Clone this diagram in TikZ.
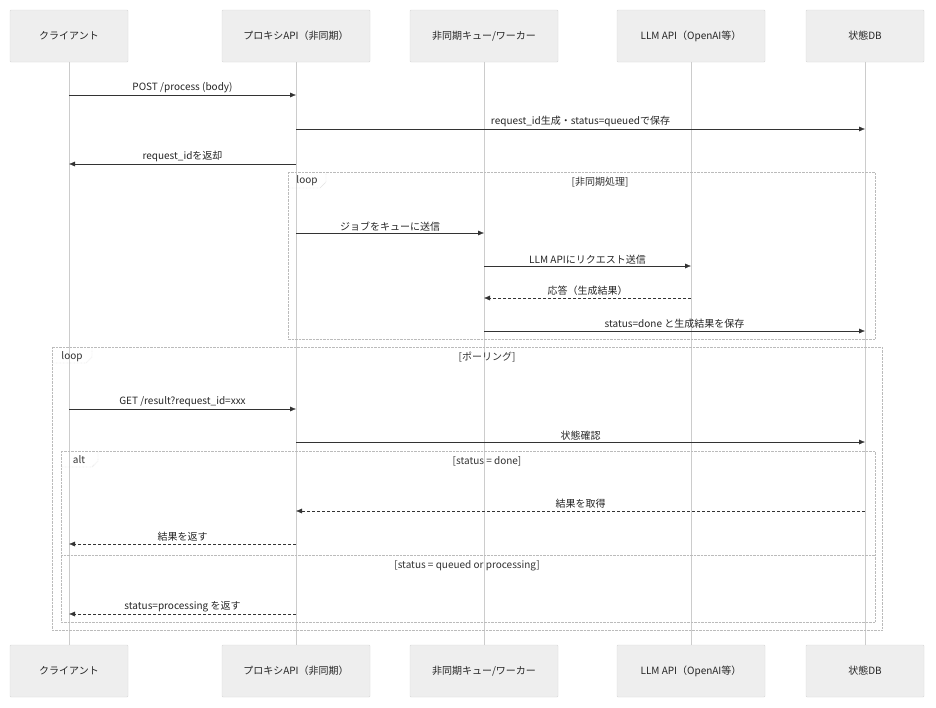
\documentclass[tikz,border=0pt]{standalone}
\usepackage{fontspec}
\setmainfont{Noto Sans CJK JP}
\usetikzlibrary{arrows.meta}

\definecolor{boxfill}{HTML}{EEEEEE}
\definecolor{boxline}{HTML}{D8D8D8}
\definecolor{lifeline}{HTML}{CCCCCC}
\definecolor{msgline}{HTML}{333333}
\definecolor{frameline}{HTML}{BBBBBB}

\tikzset{
  actor/.style={draw=boxline, fill=boxfill, rounded corners=1pt, minimum height=52pt, font=\fontsize{10}{12}\selectfont, text=black!85},
  msg/.style={draw=msgline, -{Latex[length=6pt,width=5pt]}},
  reply/.style={msg, densely dashed},
  msglabel/.style={font=\fontsize{10}{12}\selectfont, text=black!85, anchor=south, inner sep=2pt},
  frame/.style={draw=frameline, densely dotted},
  tab/.style={font=\fontsize{10}{12}\selectfont, text=black!80}
}

\begin{document}
\begin{tikzpicture}[x=1pt, y=-1pt]
      \useasboundingbox[fill=white] (0,0) rectangle (936,707);

      % actors, top and bottom
      \foreach \name/\x/\w/\txt in {cl/69/118/クライアント, px/296/148/プロキシAPI（非同期）, qu/484/148/{非同期キュー/ワーカー}, llm/691/148/LLM API（OpenAI等）, db/865/118/状態DB} {
        \node[actor, minimum width=\w pt] (\name) at (\x,36) {\txt};
        \node[actor, minimum width=\w pt] (\name b) at (\x,671) {\txt};
        \draw[lifeline] (\name.south) -- (\name b.north);
      }

      % frames
      \draw[frame] (288,172) rectangle (875,339);
      \draw[frame] (288,188) -- (320,188) -- (326,182) -- (326,172);
      \node[tab] at (307,181) {loop};
      \node[tab] at (600,182) {[非同期処理]};

      \draw[frame] (52,347) rectangle (882,630);
      \draw[frame] (52,363) -- (86,363) -- (92,357) -- (92,347);
      \node[tab] at (72,357) {loop};
      \node[tab] at (487,357) {[ポーリング]};

      \draw[frame] (61,451) rectangle (875,622);
      \draw[frame] (61,467) -- (92,467) -- (98,461) -- (98,451);
      \node[tab] at (79,460) {alt};
      \node[tab] at (487,461) {[status = done]};
      \draw[frame] (61,555) -- (875,555);
      \node[tab] at (467,566) {[status = queued or processing]};

      % messages
      \draw[msg] (cl |- 0,95) -- node[msglabel] {POST /process (body)} (px |- 0,95);
      \draw[msg] (px |- 0,129) -- node[msglabel] {request\_id生成・status=queuedで保存} (db |- 0,129);
      \draw[msg] (px |- 0,164) -- node[msglabel] {request\_idを返却} (cl |- 0,164);
      \draw[msg] (px |- 0,233) -- node[msglabel] {ジョブをキューに送信} (qu |- 0,233);
      \draw[msg] (qu |- 0,266) -- node[msglabel] {LLM APIにリクエスト送信} (llm |- 0,266);
      \draw[reply] (llm |- 0,298) -- node[msglabel] {応答（生成結果）} (qu |- 0,298);
      \draw[msg] (qu |- 0,331) -- node[msglabel] {status=done と生成結果を保存} (db |- 0,331);
      \draw[msg] (cl |- 0,409) -- node[msglabel] {GET /result?request\_id=xxx} (px |- 0,409);
      \draw[msg] (px |- 0,442) -- node[msglabel] {状態確認} (db |- 0,442);
      \draw[reply] (db |- 0,511) -- node[msglabel] {結果を取得} (px |- 0,511);
      \draw[reply] (px |- 0,544) -- node[msglabel] {結果を返す} (cl |- 0,544);
      \draw[reply] (px |- 0,614) -- node[msglabel] {status=processing を返す} (cl |- 0,614);
    \end{tikzpicture}
\end{document}
